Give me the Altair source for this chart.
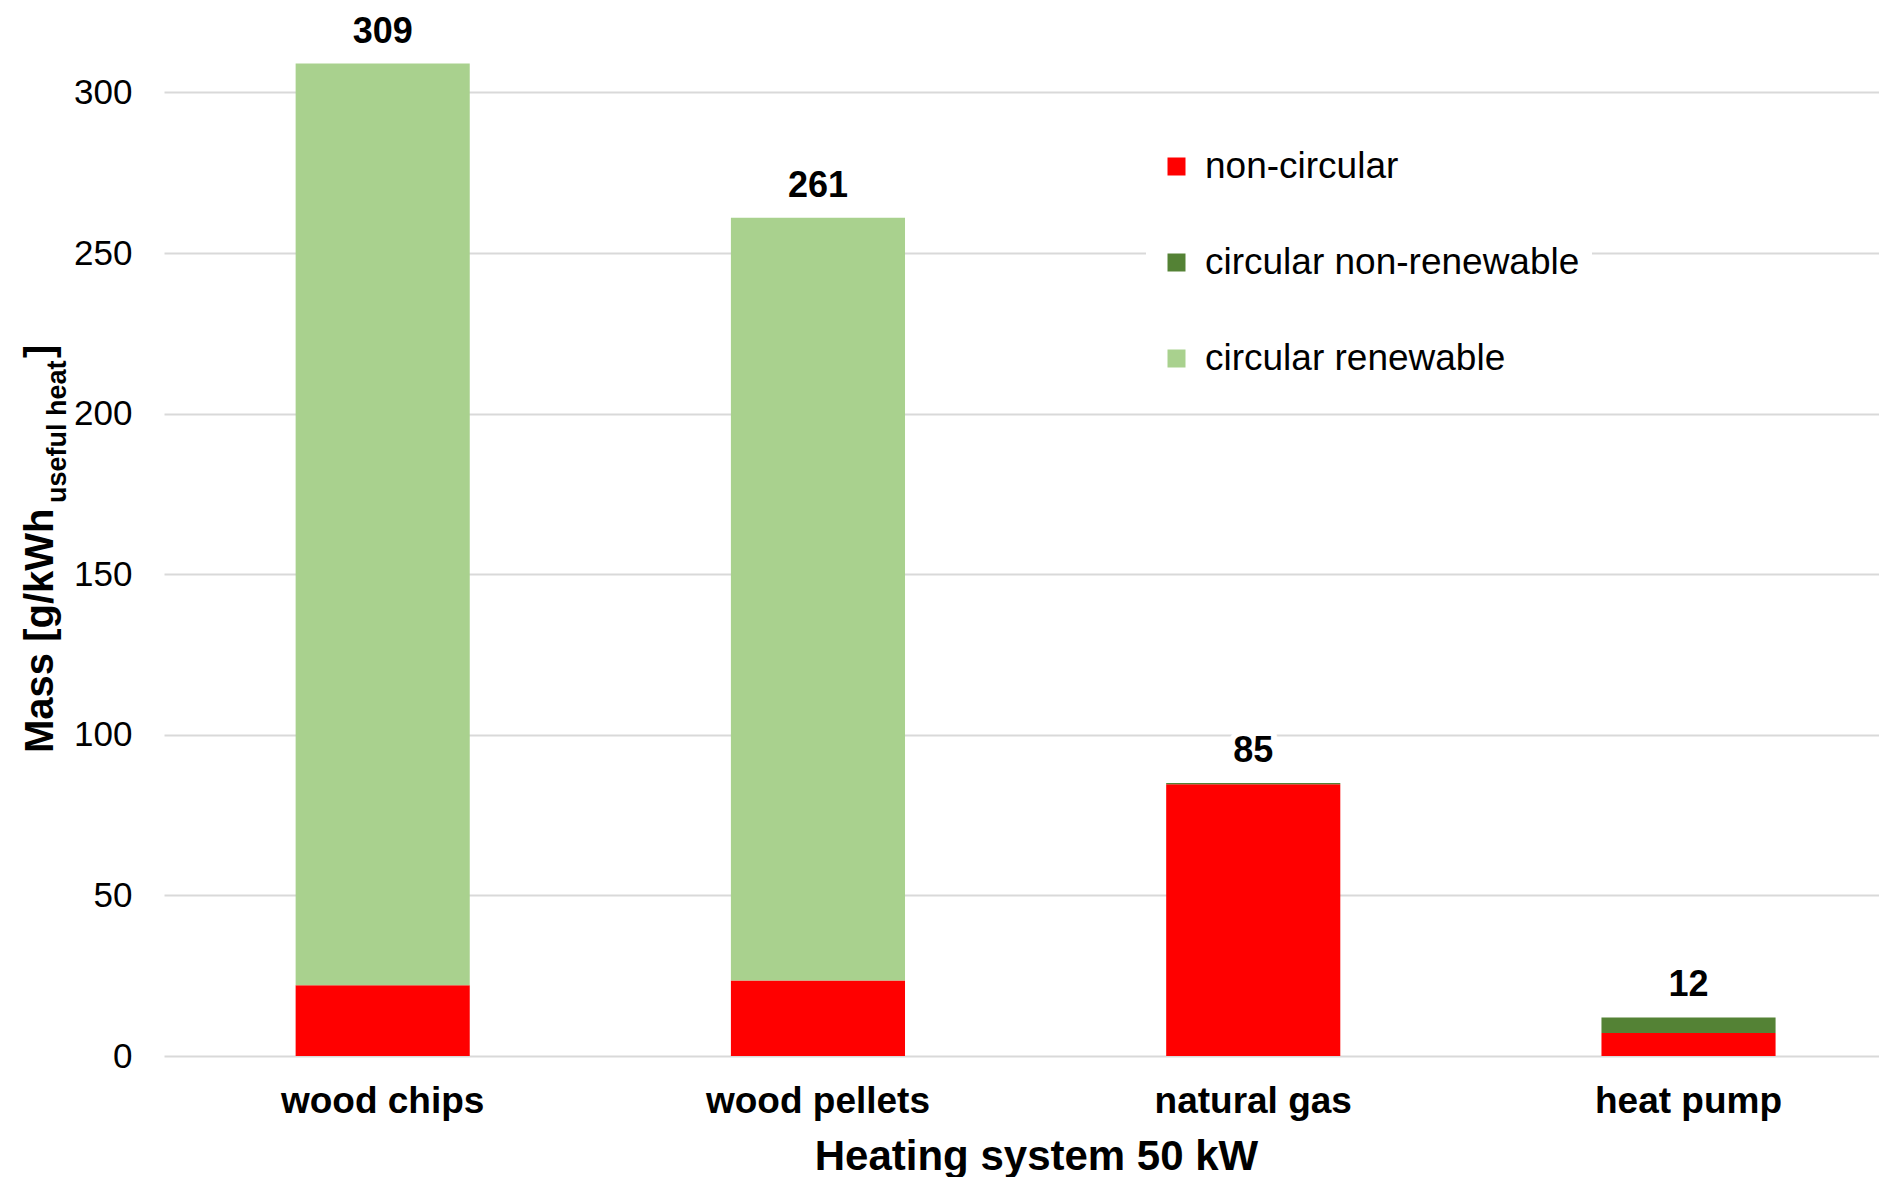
import altair as alt
import pandas as pd

# Mass per kWh of useful heat, split by circularity, for four 50 kW heating systems
systems = ["wood chips", "wood pellets", "natural gas", "heat pump"]
parts = ["non-circular", "circular non-renewable", "circular renewable"]
non_circular = [22.0, 23.5, 84.6, 7.2]
circular_non_renewable = [0.0, 0.0, 0.4, 4.8]
circular_renewable = [287.0, 237.5, 0.0, 0.0]
totals = [309, 261, 85, 12]
part_colors = ["#ff0000", "#548235", "#a9d18e"]
y_ticks = [0, 50, 100, 150, 200, 250, 300]

FONT = "Liberation Sans"

rows = []
for i, s in enumerate(systems):
    for k, (p, vals) in enumerate(zip(parts, [non_circular, circular_non_renewable, circular_renewable])):
        rows.append({"system": s, "part": p, "idx": k, "mass": vals[i]})
long_df = pd.DataFrame(rows)
total_df = pd.DataFrame({"system": systems, "total": totals})

x_scale = alt.Scale(domain=systems, paddingInner=0.6, paddingOuter=0.27, align=0.56)
y_scale = alt.Scale(domain=[0, 328.8], nice=False, zero=True)

x_axis = alt.Axis(
    labelFontSize=37, labelFontWeight="bold", labelColor="black", labelFont=FONT,
    labelPadding=27, labelAngle=0, labelLimit=1000, ticks=False, domain=False, grid=False,
    title="Heating system 50 kW", titleFontSize=42, titleFontWeight="bold",
    titleColor="black", titleFont=FONT, titleX=872, titleY=100,
    titleAlign="center", titleBaseline="middle",
)
y_axis = alt.Axis(
    values=y_ticks, grid=True, gridColor="#d9d9d9", gridWidth=2,
    domain=False, ticks=False, labelFontSize=35, labelColor="black",
    labelFont=FONT, labelPadding=32, labelLimit=1000, title=None,
)

bars = alt.Chart(long_df).mark_bar().encode(
    x=alt.X("system:N", sort=systems, scale=x_scale, axis=x_axis),
    y=alt.Y("mass:Q", stack="zero", scale=y_scale, axis=y_axis),
    color=alt.Color(
        "part:N", sort=parts,
        scale=alt.Scale(domain=parts, range=part_colors),
        legend=alt.Legend(
            orient="none", legendX=982, legendY=136, title=None,
            symbolType="square", symbolSize=324, symbolStrokeWidth=0,
            labelFontSize=37, labelFont=FONT, labelColor="black", labelLimit=1000,
            rowPadding=58, labelOffset=10, fillColor="white", padding=12,
        ),
    ),
    order=alt.Order("idx:Q", sort="ascending"),
)

label_enc = dict(
    x=alt.X("system:N", sort=systems, scale=x_scale, axis=x_axis),
    y=alt.Y("total:Q", scale=y_scale, axis=y_axis),
    text=alt.Text("total:Q"),
)

# white halo so gridlines break behind the value labels
halo = alt.Chart(total_df).mark_text(
    dy=-21, baseline="alphabetic", fontSize=36, fontWeight="bold", font=FONT,
    stroke="white", strokeWidth=12, strokeJoin="round", fill="white",
).encode(**label_enc)

labels = alt.Chart(total_df).mark_text(
    dy=-21, baseline="alphabetic", fontSize=36, fontWeight="bold", font=FONT,
    color="black",
).encode(**label_enc)

# y-axis title with a subscript, built from three rotated pieces
one = pd.DataFrame({"a": [0]})
ytitle_main = alt.Chart(one).mark_text(
    text="Mass [g/kWh", angle=270, align="left", baseline="alphabetic",
    fontSize=40, fontWeight="bold", font=FONT, color="black",
).encode(x=alt.value(-111), y=alt.value(753))
ytitle_sub = alt.Chart(one).mark_text(
    text="useful heat", angle=270, align="left", baseline="alphabetic",
    fontSize=27, fontWeight="bold", font=FONT, color="black",
).encode(x=alt.value(-98), y=alt.value(503))
ytitle_end = alt.Chart(one).mark_text(
    text="]", angle=270, align="left", baseline="alphabetic",
    fontSize=40, fontWeight="bold", font=FONT, color="black",
).encode(x=alt.value(-111), y=alt.value(358))

chart = (
    alt.layer(bars, halo, labels, ytitle_main, ytitle_sub, ytitle_end)
    .properties(
        width=1715, height=1056,
        autosize=alt.AutoSizeParams(type="none"),
        padding={"left": 164, "top": 0, "right": 0, "bottom": 121},
        background="white",
    )
    .configure(font=FONT)
    .configure_view(strokeWidth=0, stroke="transparent")
)

chart.save("out.html", embed_options={"renderer": "svg", "actions": False})
